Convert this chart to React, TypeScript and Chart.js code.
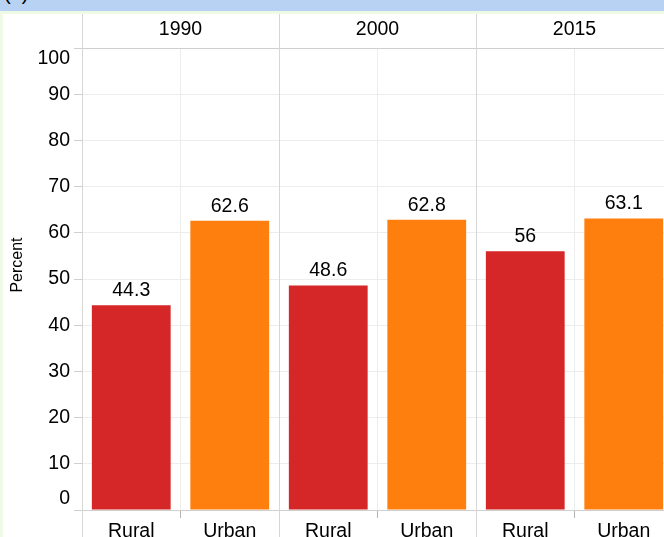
import React, { useEffect, useRef } from 'react';
import { Chart, registerables } from 'chart.js';

Chart.register(...registerables);

const years = ['1990', '2000', '2015'];
const groups = ['Rural', 'Urban'];
const rural = [44.3, 48.6, 56];
const urban = [62.6, 62.8, 63.1];
const yMin = 0;
const yMax = 100;
const yStep = 10;
const groupColors = ['#d62728', '#ff7f0e'];
const yTitle = 'Percent';

const FONT = "'Liberation Sans', Arial, Helvetica, sans-serif";
const FS = 19.5;

export default function App() {
  const ref = useRef<HTMLCanvasElement>(null);

  useEffect(() => {
    const canvas = ref.current;
    if (!canvas) return;
    const categories = years.flatMap((y) => groups.map((g) => `${y}|${g}`));
    const values = years.flatMap((_, i) => [rural[i], urban[i]]);
    const bg = years.flatMap(() => groupColors);

    const overlay = {
      id: 'overlay',
      afterDraw(chart: any) {
        const ctx = chart.ctx as CanvasRenderingContext2D;
        const xs = chart.scales.x;
        const ys = chart.scales.y;
        const area = chart.chartArea;
        const n = groups.length;
        const bounds: number[] = [];
        for (let k = 0; k <= years.length; k++) {
          if (k === 0) bounds.push(area.left);
          else if (k === years.length) bounds.push(area.right);
          else bounds.push((xs.getPixelForValue(k * n - 1) + xs.getPixelForValue(k * n)) / 2);
        }
        ctx.save();
        // facet separators
        ctx.strokeStyle = '#d6d6d6';
        ctx.lineWidth = 1;
        for (let k = 0; k < years.length; k++) {
          const x = Math.round(bounds[k]) + 0.5;
          ctx.beginPath();
          ctx.moveTo(x, 0);
          ctx.lineTo(x, chart.height);
          ctx.stroke();
        }
        // facet headers
        ctx.fillStyle = '#000';
        ctx.font = `${FS}px ${FONT}`;
        ctx.textAlign = 'center';
        ctx.textBaseline = 'middle';
        for (let k = 0; k < years.length; k++) {
          ctx.fillText(years[k], (bounds[k] + bounds[k + 1]) / 2, 16);
        }
        // y tick labels (flush)
        ctx.textAlign = 'right';
        for (let v = yMin; v <= yMax; v += yStep) {
          const y = ys.getPixelForValue(v);
          ctx.textBaseline = v === yMax ? 'top' : v === yMin ? 'bottom' : 'middle';
          const dy = v === yMax ? 1 : v === yMin ? -2 : 0;
          ctx.fillText(String(v), area.left - 12, y + dy);
        }
        // data labels
        ctx.textAlign = 'center';
        ctx.textBaseline = 'alphabetic';
        const meta = chart.getDatasetMeta(0);
        meta.data.forEach((bar: any, i: number) => {
          ctx.fillText(String(values[i]), bar.x, bar.y - 9);
        });
        // y title
        ctx.font = `16px ${FONT}`;
        ctx.translate(15, 251);
        ctx.rotate(-Math.PI / 2);
        ctx.textAlign = 'center';
        ctx.textBaseline = 'middle';
        ctx.fillText(yTitle, 0, 0);
        ctx.restore();
      },
    };

    const chart = new Chart(canvas, {
      type: 'bar',
      data: {
        labels: categories,
        datasets: [
          {
            data: values,
            backgroundColor: bg,
            borderWidth: 0,
            barPercentage: 0.8,
            categoryPercentage: 1.0,
          },
        ],
      },
      options: {
        animation: false,
        responsive: false,
        devicePixelRatio: 1,
        layout: { padding: { top: 34, right: 10, left: 0, bottom: 0 } },
        plugins: {
          legend: { display: false },
          tooltip: { enabled: false },
          title: { display: false },
        },
        scales: {
          x: {
            type: 'category',
            offset: true,
            grid: {
              offset: true,
              color: (c: any) => (c.index % 2 === 1 ? '#ededed' : 'rgba(0,0,0,0)'),
              tickColor: (c: any) => (c.index % 2 === 1 ? '#b5b5b5' : 'rgba(0,0,0,0)'),
              tickLength: 8,
              lineWidth: 1,
            },
            border: { display: true, color: '#cfcfcf' },
            ticks: {
              callback: (_v: any, i: number) => groups[i % groups.length],
              color: '#000',
              font: { family: FONT, size: FS },
              padding: 2,
              maxRotation: 0,
              autoSkip: false,
            },
            afterFit: (s: any) => {
              s.height = 64;
            },
          },
          y: {
            min: yMin,
            max: yMax,
            ticks: { stepSize: yStep, display: false },
            grid: {
              color: (c: any) =>
                c.tick && (c.tick.value === yMax || c.tick.value === yMin) ? '#cfcfcf' : '#ededed',
              tickColor: '#cfcfcf',
              tickLength: 8,
              lineWidth: 1,
            },
            border: { display: false },
            afterFit: (s: any) => {
              s.width = 79;
            },
          },
        },
      },
      plugins: [overlay],
    } as any);

    return () => chart.destroy();
  }, []);

  return (
    <div
      style={{
        position: 'fixed',
        left: 0,
        top: 0,
        width: 664,
        height: 537,
        overflow: 'hidden',
        background: '#eefae6',
      }}
    >
      <div
        style={{
          position: 'absolute',
          left: 0,
          top: 0,
          width: 664,
          height: 11,
          background: '#b7d2f2',
          overflow: 'hidden',
        }}
      >
        <div
          style={{
            position: 'absolute',
            left: 4,
            top: -18,
            fontFamily: FONT,
            fontSize: 20,
            lineHeight: '22px',
            color: '#000',
            whiteSpace: 'pre',
          }}
        >
          (a)
        </div>
      </div>
      <canvas
        ref={ref}
        width={680}
        height={560}
        style={{ position: 'absolute', left: 3, top: 14, background: '#fff', display: 'block' }}
      />
    </div>
  );
}
